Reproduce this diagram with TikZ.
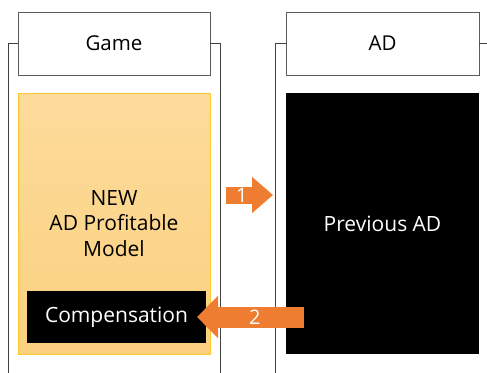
\documentclass[tikz,border=0pt]{standalone}
\usepackage{fontspec}
\setmainfont{Open Sans}
\usetikzlibrary{arrows.meta,positioning}
\definecolor{framecol}{gray}{0.25}
\definecolor{headcol}{gray}{0.36}
\definecolor{modtop}{RGB}{253,219,155}
\definecolor{modbot}{RGB}{251,209,128}
\definecolor{modline}{RGB}{255,198,46}
\definecolor{arrcol}{RGB}{238,125,49}
\tikzset{
  colframe/.style={draw=framecol,line width=0.9pt},
  colhead/.style={draw=headcol,line width=1pt,fill=white,outer sep=0pt,
    minimum width=192pt,minimum height=63pt,font=\fontsize{20.5}{24}\selectfont},
  colbody/.style={outer sep=0pt,minimum width=192pt,minimum height=261pt,
    font=\fontsize{21}{25.5}\selectfont,align=center},
  blackbox/.style={fill=black,text=white},
  num/.style={text=white,font=\fontsize{20}{24}\selectfont,inner sep=0pt},
  bigarrow/.style={draw=arrcol,line width=#1},
}
\begin{document}
\begin{tikzpicture}[x=1pt,y=1pt,node distance=18pt]
  \useasboundingbox (0,0) rectangle (487,-372);
  % column heads
  \node[colhead] (gamehead) at (114,-43.5) {Game};
  \node[colhead,right=76pt of gamehead,minimum width=193pt] (adhead) {AD};
  % column frames
  \draw[colframe] (gamehead.west) -- ++(-10,0) -- ++(0,-340);
  \draw[colframe] (gamehead.east) -- ++(10,0) -- ++(0,-340);
  \draw[colframe] (adhead.west) -- ++(-11,0) -- ++(0,-340);
  \draw[colframe] (adhead.east) -- ++(10,0) -- ++(0,-340);
  % column bodies
  \node[colbody,draw=modline,line width=0.8pt,top color=modtop,bottom color=modbot,
    below=18pt of gamehead] (model) {NEW\\AD Profitable\\Model};
  \node[colbody,blackbox,minimum width=193pt,below=18pt of adhead] (prev) {Previous AD};
  \node[blackbox,outer sep=0pt,minimum width=179pt,minimum height=52pt,
    font=\fontsize{21}{25}\selectfont] (comp) at (116.5,-317) {Compensation};
  % flow arrows
  \draw[bigarrow=17pt,-{Triangle[length=21pt,width=35pt]},shorten <=16pt,shorten >=13pt]
    ([yshift=28.5pt]model.east) -- node[num,pos=0.42] (one) {1} ([yshift=28.5pt]prev.west);
  \draw[bigarrow=21pt,-{Triangle[length=21pt,width=41pt]},shorten <=-18pt,shorten >=-9pt]
    (prev.west |- comp.east) -- node[num,pos=0.39] (two) {2} (comp.east);
\end{tikzpicture}
\end{document}
